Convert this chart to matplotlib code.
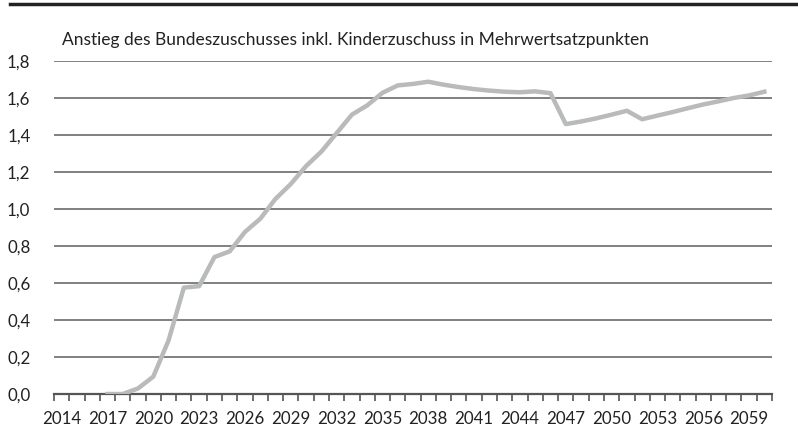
import matplotlib.pyplot as plt
from matplotlib.lines import Line2D
import numpy as np

plt.rcParams["font.family"] = ["Lato", "DejaVu Sans"]

years = list(range(2014, 2061))
values = [None, None, None,
          0.0, 0.0, 0.03, 0.094, 0.29, 0.575, 0.583,
          0.74, 0.771, 0.876, 0.947, 1.055, 1.135, 1.232, 1.31,
          1.41, 1.51, 1.56, 1.628, 1.668, 1.676, 1.688, 1.672,
          1.659, 1.648, 1.64, 1.634, 1.631, 1.636, 1.626, 1.459,
          1.473, 1.49, 1.51, 1.531, 1.485, 1.505, 1.524, 1.545,
          1.565, 1.582, 1.6, 1.614, 1.634]
y_ticks = [0.0, 0.2, 0.4, 0.6, 0.8, 1.0, 1.2, 1.4, 1.6, 1.8]
title = "Anstieg des Bundeszuschusses inkl. Kinderzuschuss in Mehrwertsatzpunkten"

x = np.arange(len(years))
y = np.array([np.nan if v is None else v for v in values])

fig = plt.figure(figsize=(7.98, 4.28), dpi=100)
ax = fig.add_axes([54 / 798, 34 / 428, 718 / 798, 333 / 428])

for t in y_ticks[1:]:
    ax.axhline(t, color="#808080", lw=1.4, zorder=1)

ax.plot(x, y, color="#b9baba", lw=3.2, solid_joinstyle="round", zorder=3)

ax.set_xlim(-0.5, len(years) - 0.5)
ax.set_ylim(0, 1.8)
ax.set_yticks(y_ticks)
ax.set_yticklabels([f"{t:.1f}".replace(".", ",") for t in y_ticks])
ax.tick_params(axis="y", length=0, pad=17, labelsize=12.2, colors="#222222")

# category boundary ticks, labels every third year
ax.set_xticks(np.arange(len(years) + 1) - 0.5, minor=True)
ax.set_xticks(x[::3])
ax.set_xticklabels([str(yr) for yr in years[::3]])
ax.tick_params(axis="x", which="major", length=0, pad=12, labelsize=12.2, colors="#222222")
ax.tick_params(axis="x", which="minor", length=5, width=1.2, color="#555555")

for s in ["top", "right", "left"]:
    ax.spines[s].set_visible(False)
ax.spines["bottom"].set_color("#555555")
ax.spines["bottom"].set_linewidth(1.6)

fig.text(62 / 798, 1 - 40 / 428, title, fontsize=12.5, color="#222222", va="center")
fig.add_artist(Line2D([10 / 798, 796 / 798], [1 - 4 / 428, 1 - 4 / 428],
                      color="#222222", lw=2.5, transform=fig.transFigure))

plt.savefig("out.png", dpi=100)
